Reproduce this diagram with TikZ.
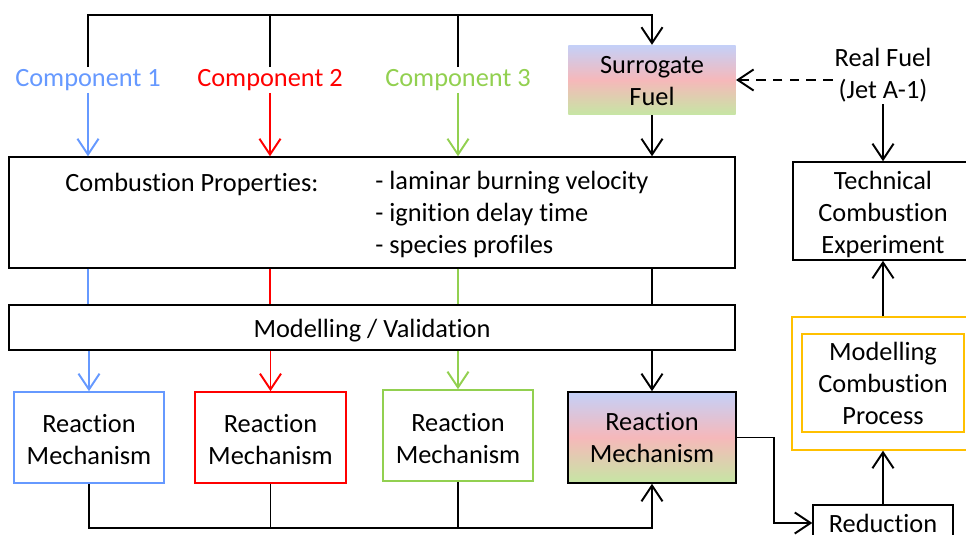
\documentclass[tikz,border=0pt]{standalone}
\usepackage{fontspec}
\setmainfont{Carlito}[Ligatures=NoCommon]
\usetikzlibrary{arrows.meta,calc}
\definecolor{cblue}{RGB}{102,153,255}
\definecolor{cred}{RGB}{255,0,0}
\definecolor{cgreen}{RGB}{146,208,80}
\definecolor{cyellow}{RGB}{255,192,0}
\definecolor{gblue}{RGB}{196,208,248}
\definecolor{gred}{RGB}{246,184,186}
\definecolor{ggreen}{RGB}{198,230,164}
\def\pxu{0.5669pt}
\newcommand\stk[2]{\raisebox{#1}[\height][\depth]{\begin{tabular}{@{}c@{}}#2\end{tabular}}}
\begin{document}
\begin{tikzpicture}[x=0.02cm,y=-0.02cm,
  font=\fontsize{15}{18.2}\selectfont,
  thk/.style={line width=1.1pt},
  thn/.style={line width=0.6pt},
  arr/.style={-{Straight Barb[length=9pt,width=12pt]}},
  box/.style={draw, line width=1.1pt, align=center, inner sep=0pt},
  lbl/.style={inner sep=1pt, align=center},
  grad/.style={shade, top color=gblue, bottom color=ggreen, middle color=gred, align=center, inner sep=0pt}
]
\useasboundingbox (0,0) rectangle (966,534);
\clip (0,0) rectangle (966,534);

% labels
\node[lbl, text=cblue] (c1) at (88,80) {Component 1};
\node[lbl, text=cred] (c2) at (270,80) {Component 2};
\node[lbl, text=cgreen] (c3) at (458,80) {Component 3};
\node[grad, minimum width=168*\pxu, minimum height=70*\pxu] (sur) at (652,80) {\stk{-2pt}{Surrogate\\Fuel}};
\node[lbl] (rf) at (883,75) {Real Fuel\\(Jet A-1)};

% big boxes
\node[box, minimum width=728*\pxu, minimum height=111*\pxu] (cp) at (372,212.5) {};
\node[anchor=west, inner sep=0pt] (cpt) at (65,184) {Combustion Properties:};
\node[anchor=west, align=left, inner sep=0pt] (cpl) at (375,214) {- laminar burning velocity\\- ignition delay time\\- species profiles};
\node[box, minimum width=728*\pxu, minimum height=45*\pxu] (mv) at (372,327.5) {\raisebox{-1.7pt}[\height][\depth]{Modelling / Validation}};

% mechanisms
\node[box, draw=cblue, minimum width=150*\pxu, minimum height=91*\pxu] (rm1) at (89,437.5) {\stk{-2.8pt}{Reaction\\Mechanism}};
\node[box, draw=cred, minimum width=151*\pxu, minimum height=91*\pxu] (rm2) at (270.5,437.5) {\stk{-2.8pt}{Reaction\\Mechanism}};
\node[box, draw=cgreen, minimum width=150*\pxu, minimum height=91*\pxu] (rm3) at (458,435.5) {\stk{-3pt}{Reaction\\Mechanism}};
\node[box, grad, draw=black, minimum width=168*\pxu, minimum height=91*\pxu] (rm4) at (652,437.5) {\stk{-1.7pt}{Reaction\\Mechanism}};

% right column
\node[box, minimum width=180*\pxu, minimum height=98*\pxu] (tce) at (883,211) {\stk{-2.5pt}{Technical\\Combustion\\Experiment}};
\node[box, draw=cyellow, minimum width=182*\pxu, minimum height=133*\pxu] (yo) at (883,383.5) {};
\node[box, draw=cyellow, minimum width=162*\pxu, minimum height=98*\pxu] (yi) at (883,383) {\stk{-2pt}{Modelling\\Combustion\\Process}};
\node[box, minimum width=140*\pxu, minimum height=36*\pxu] (red) at (883,523) {Reduction};

% top bus
\coordinate (tb) at (652,15);
\draw[thk,arr] (c1.north) |- (tb) -- (sur.north);
\draw[thn] (c2.north) -- (c2.north |- tb);
\draw[thn] (c3.north) -- (c3.north |- tb);

% component arrows
\draw[thk,arr,cblue] (c1.south) -- (c1.south |- cp.north);
\draw[thk,arr,cred] (c2.south) -- (c2.south |- cp.north);
\draw[thk,arr,cgreen] (c3.south) -- (c3.south |- cp.north);
\draw[thk,arr] (sur.south) -- (sur.south |- cp.north);
\draw[thk,arr,dash pattern=on 5.5pt off 4pt] (rf.west |- sur.east) -- (sur.east);

% cp -> mv
\draw[thn,cblue] (cp.south -| c1) -- (mv.north -| c1);
\draw[thn,cred] (cp.south -| c2) -- (mv.north -| c2);
\draw[thn,cgreen] (cp.south -| c3) -- (mv.north -| c3);
\draw[thn] (cp.south -| sur) -- (mv.north -| sur);

% mv -> mechanisms
\draw[thk,arr,cblue] (mv.south -| rm1) -- (rm1.north);
\draw[thk,arr,cred] (mv.south -| rm2) -- (rm2.north);
\draw[thk,arr,cgreen] (mv.south -| rm3) -- (rm3.north);
\draw[thk,arr] (mv.south -| rm4) -- (rm4.north);

% bottom bus
\coordinate (bb) at (652,528);
\draw[thk,arr] (rm1.south) |- (bb) -- (rm4.south);
\draw[thn] (rm2.south) -- (rm2.south |- bb);
\draw[thn] (rm3.south) -- (rm3.south |- bb);

% right chain
\coordinate (bend) at (774,437.5);
\draw[thk,arr] (rm4.east) -- (bend) |- (red.west);
\draw[thk,arr] (red.north) -- (yo.south);
\draw[thk,arr] (yo.north) -- (tce.south);
\draw[thk,arr] (rf.south) -- (tce.north);
\end{tikzpicture}
\end{document}
